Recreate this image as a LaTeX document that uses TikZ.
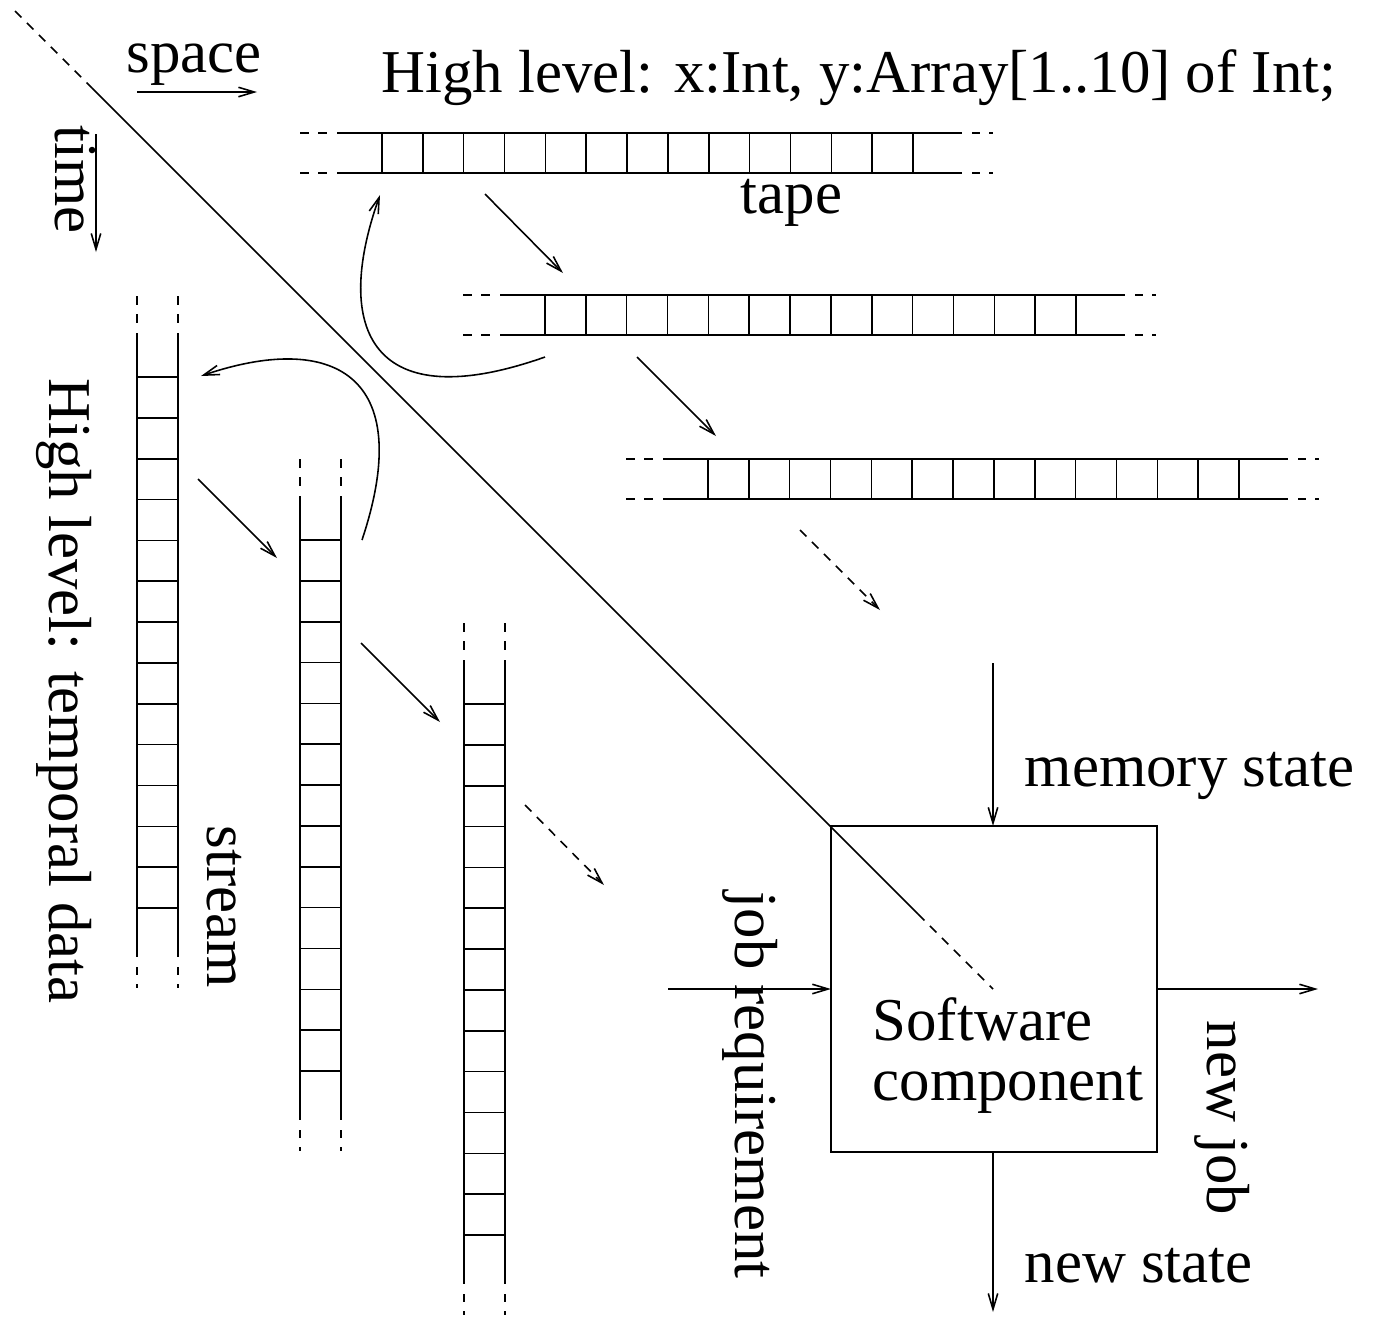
\documentclass[tikz,border=0pt]{standalone}
\usepackage{fontspec}
\setmainfont{Liberation Serif}
\usetikzlibrary{arrows.meta}

% horizontal tape: #1 = x of first cell wall, #2 = y of upper edge
\newcommand\tapeH[2]{%
  \foreach \dy in {0,40} {
    \draw[ln] ({#1-82},{#2+\dy}) -- ({#1-73},{#2+\dy})
              ({#1-64},{#2+\dy}) -- ({#1-55},{#2+\dy});
    \draw[ln] ({#1-45},{#2+\dy}) -- ({#1+580},{#2+\dy});
    \draw[ln] ({#1+590},{#2+\dy}) -- ({#1+598},{#2+\dy})
              ({#1+607},{#2+\dy}) -- ({#1+611},{#2+\dy});
  }
  \foreach \i in {0,...,13}
    \draw[ln] ({#1+\i*40.85},{#2}) -- ({#1+\i*40.85},{#2+40});
}
% vertical stream: #1 = x of left edge, #2 = y of first cell wall
\newcommand\streamV[2]{%
  \foreach \dx in {0,41} {
    \draw[ln] ({#1+\dx},{#2-81}) -- ({#1+\dx},{#2-72})
              ({#1+\dx},{#2-63}) -- ({#1+\dx},{#2-54});
    \draw[ln] ({#1+\dx},{#2-44}) -- ({#1+\dx},{#2+580});
    \draw[ln] ({#1+\dx},{#2+590}) -- ({#1+\dx},{#2+598})
              ({#1+\dx},{#2+607}) -- ({#1+\dx},{#2+611});
  }
  \foreach \i in {0,...,13}
    \draw[ln] ({#1},{#2+\i*40.85}) -- ({#1+41},{#2+\i*40.85});
}

\begin{document}
\begin{tikzpicture}[x=0.01cm,y=-0.01cm,
  ln/.style={line width=0.45pt},
  arr/.style={ln,-{Straight Barb[length=4.5pt,width=2.7pt]}},
  dsh/.style={dash pattern=on 2.6pt off 2.2pt},
  lbl/.style={inner sep=0pt,font=\fontsize{17.3}{20}\selectfont},
]
\useasboundingbox (0,0) rectangle (1384,1323);

% tapes (space) and streams (time)
\tapeH{382}{133}
\tapeH{545}{295}
\tapeH{708}{459}
\streamV{137}{377}
\streamV{300}{540}
\streamV{464}{704}

% diagonal separating line
\coordinate (d0) at (15,11);
\coordinate (d1) at (92,88);
\coordinate (d2) at (918,914);
\coordinate (d3) at (993,989);
\draw[ln,dsh] (d0) -- (d1);
\draw[ln] (d1) -- (d2);
\draw[ln,dsh] (d2) -- (d3);

% axis arrows
\coordinate (sp0) at (137,92);  \coordinate (sp1) at (257,92);
\coordinate (tm0) at (96,134);  \coordinate (tm1) at (96,252);
\draw[arr] (sp0) -- (sp1);
\draw[arr] (tm0) -- (tm1);

% steps between tapes
\coordinate (ta0) at (485,194); \coordinate (ta1) at (563,273);
\coordinate (tb0) at (637,357); \coordinate (tb1) at (716,436);
\coordinate (tc0) at (800,530); \coordinate (tc1) at (880,610);
\draw[arr] (ta0) -- (ta1);
\draw[arr] (tb0) -- (tb1);
\draw[arr,dsh] (tc0) -- (tc1);

% steps between streams
\coordinate (sa0) at (198,479); \coordinate (sa1) at (277,558);
\coordinate (sb0) at (361,643); \coordinate (sb1) at (440,722);
\coordinate (sc0) at (525,805); \coordinate (sc1) at (604,885);
\draw[arr] (sa0) -- (sa1);
\draw[arr] (sb0) -- (sb1);
\draw[arr,dsh] (sc0) -- (sc1);

% curved links across the diagonal
\coordinate (ca0) at (545,357); \coordinate (ca1) at (380,195);
\coordinate (cb0) at (362,540); \coordinate (cb1) at (201,376);
\draw[arr] (ca0) .. controls (372,418) and (332,330) .. (ca1);
\draw[arr] (cb0) .. controls (418,372) and (330,332) .. (cb1);

% software component
\node[draw,ln,minimum width=3.26cm,minimum height=3.26cm,inner sep=0pt,outer sep=0pt] (sw) at (994,989) {};
\coordinate (memin) at (993,663);
\coordinate (jobin) at (668,989);
\coordinate (jobout) at (1318,989);
\coordinate (stout) at (993,1312);
\draw[arr] (memin) -- (memin |- sw.north);
\draw[arr] (jobin) -- (sw.west);
\draw[arr] (sw.east) -- (jobout);
\draw[arr] (stout |- sw.south) -- (stout);

% labels
\node[lbl,anchor=base west] (lspace) at (126,72) {space};
\node[lbl,anchor=base west] (lhigh) at (381,92) {High level: x:Int, y:Array[1..10] of Int;};
\node[lbl,anchor=base west] (ltape) at (740,213) {tape};
\node[lbl,anchor=base west,rotate=-90] (ltime) at (55,125) {time};
\node[lbl,anchor=base west,rotate=-90] (ltemp) at (50,378) {High level: temporal data};
\node[lbl,anchor=base west,rotate=-90] (lstream) at (207,825) {stream};
\node[lbl,anchor=base west,rotate=-90] (ljob) at (735,891) {job requirement};
\node[lbl,anchor=base west,rotate=-90] (lnewjob) at (1207,1020) {new job};
\node[lbl,anchor=base west] (lmem) at (1024,786) {memory state};
\node[lbl,anchor=base west] (lnewst) at (1024,1282) {new state};
\node[lbl,anchor=base west] (lsw1) at (872,1040) {Software};
\node[lbl,anchor=base west] (lsw2) at (872,1100) {component};
\end{tikzpicture}
\end{document}
